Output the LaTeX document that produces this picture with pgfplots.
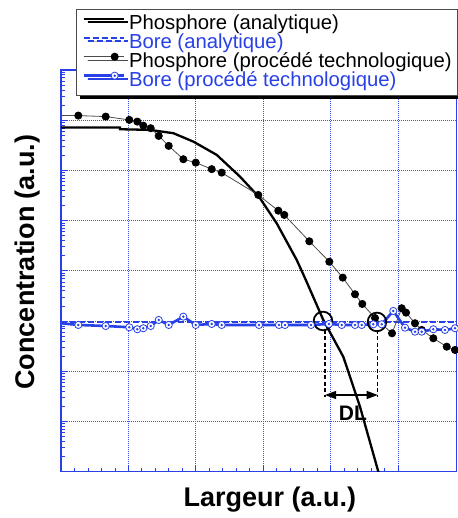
\documentclass[border=0pt]{standalone}
\usepackage{fontspec}
\setmainfont{Liberation Sans}
\usepackage{pgfplots}
\pgfplotsset{compat=1.18}
\usetikzlibrary{shadows,arrows.meta}

\definecolor{myblue}{RGB}{40,64,232}
\definecolor{gridblue}{RGB}{55,80,235}

% open circle with a dot in the middle
\pgfdeclareplotmark{dotcircle}{%
  \pgfpathcircle{\pgfpointorigin}{\pgfplotmarksize}%
  \pgfusepathqfillstroke
  \pgfscope
  \pgfsetfillcolor{myblue}%
  \pgfpathcircle{\pgfpointorigin}{0.38\pgfplotmarksize}%
  \pgfusepathqfill
  \endpgfscope
}

\begin{document}
\begin{tikzpicture}
\path[use as bounding box] (0,0) rectangle (457pt,518pt);
\begin{axis}[
    at={(61pt,46.3pt)}, anchor=south west,
    scale only axis, width=395.7pt, height=401.7pt,
    xmin=0, xmax=5.871,
    ymode=log, ymin=1, ymax=1e8,
    xtick={0,1,2,3,4,5}, minor x tick num=4,
    ytick={1,10,100,1000,10000,100000,1000000,10000000,100000000},
    minor ytick={2,3,4,5,6,7,8,9,20,30,40,50,60,70,80,90,
      200,300,400,500,600,700,800,900,2000,3000,4000,5000,6000,7000,8000,9000,
      20000,30000,40000,50000,60000,70000,80000,90000,
      200000,300000,400000,500000,600000,700000,800000,900000,
      2000000,3000000,4000000,5000000,6000000,7000000,8000000,9000000,
      20000000,30000000,40000000,50000000,60000000,70000000,80000000,90000000},
    xticklabels={}, yticklabels={},
    tick pos=left, tick align=inside,
    major tick length=6pt, minor tick length=4pt,
    tick style={myblue, line width=0.8pt},
    axis line style={myblue, line width=1.2pt},
    grid=major,
    major grid style={gridblue, line width=0.9pt, dash pattern=on 1pt off 1pt},
    xlabel={Largeur (a.u.)},
    ylabel={Concentration (a.u.)},
    xlabel style={at={(axis description cs:0.528,-0.0705)}, anchor=center,
      font=\fontsize{27}{27}\selectfont\bfseries},
    ylabel style={at={(axis description cs:-0.0847,0.522)}, anchor=center,
      font=\fontsize{27}{27}\selectfont\bfseries},
    legend cell align=left,
    legend image code/.code={%
      \draw[#1, mark=none] (0pt,5.5pt) -- (40pt,5.5pt);
      \path[#1] plot coordinates {(0pt,5.5pt) (31pt,5.5pt)};},
    legend style={
      at={(axis description cs:0.0379,1.1511)}, anchor=north west,
      draw=black!70, line width=0.8pt, fill=white,
      font=\fontsize{20.3}{20}\selectfont,
      inner xsep=6pt, inner ysep=5pt,
      row sep=0pt,
      nodes={inner sep=0pt, text height=14.5pt, text depth=4.5pt},
      drop shadow={shadow xshift=4pt, shadow yshift=-3.5pt, fill=black, opacity=1},
      /tikz/every odd column/.append style={column sep=4pt},
    },
]

% Phosphore (analytique)
\addplot[black, line width=2.3pt, mark=none] coordinates {
  (0,7.13e6) (0.875,7.13e6) (0.875,6.61e6) (1.32,6.41e6) (1.667,5.51e6)
  (1.963,3.75e6) (2.31,2.04e6) (2.656,7.52e5) (2.953,2.79e5) (3.2,8.87e4)
  (3.497,1.65e4) (3.632,6.59e3) (3.892,1.05e3) (4.188,195) (4.436,19.7)
  (4.708,1.0) (4.807,0.275)
};
\addlegendentry{Phosphore (analytique)}

% Bore (analytique)
\addplot[myblue, line width=2pt, dash pattern=on 6pt off 3pt, mark=none] coordinates {
  (0,973) (5.871,973)
};
\addlegendentry{\textcolor{myblue}{Bore (analytique)}}

% Phosphore (procede technologique)
\addplot[black!70, line width=0.8pt, mark=*, mark size=3.6pt,
  mark options={fill=black, draw=black, solid}, mark indices={2,...,40}] coordinates {
  (0,1.236e7) (0.257,1.236e7) (0.663,1.18e7) (1.013,1.014e7) (1.132,9.38e6)
  (1.221,7.80e6) (1.331,6.93e6) (1.450,4.87e6) (1.598,3.08e6) (1.815,1.67e6)
  (1.999,1.43e6) (2.236,1.06e6) (2.384,9.04e5) (2.927,3.25e5) (3.224,1.58e5)
  (3.313,1.30e5) (3.684,3.88e4) (3.981,1.52e4) (4.180,7.33e3) (4.362,3.42e3)
  (4.470,2.19e3) (4.659,1.15e3) (4.911,571) (5.055,1.80e3) (5.119,1.47e3)
  (5.252,904) (5.352,665) (5.524,454) (5.723,309) (5.846,266)
};
\addlegendentry{Phosphore (procédé technologique)}

% Bore (procede technologique)
\addplot[myblue, line width=2.6pt, mark=dotcircle, mark size=3.6pt,
  mark options={fill=white, draw=myblue, line width=0.8pt, solid}, mark indices={2,...,40}] coordinates {
  (0,904) (0.257,836) (0.663,798) (1.013,752) (1.132,687) (1.221,719)
  (1.331,798) (1.450,1052) (1.598,836) (1.815,1224) (1.999,836) (2.236,875)
  (2.384,836) (2.938,836) (3.234,836) (3.323,836) (3.709,836) (3.976,875)
  (4.165,836) (4.362,836) (4.461,836) (4.634,863) (4.758,863) (4.930,1589)
  (5.104,739) (5.252,615) (5.352,615) (5.524,687) (5.697,665) (5.846,719)
};
\addlegendentry{\textcolor{myblue}{Bore (procédé technologique)}}

% DL annotation
\draw[black, line width=1.8pt] (axis cs:3.887,1004) circle[radius=9.3pt];
\draw[black, line width=1.8pt] (axis cs:4.688,960) circle[radius=9.3pt];
\draw[black, line width=1.4pt, dash pattern=on 4pt off 2.5pt]
  (axis cs:3.917,665) -- (axis cs:3.917,30.8);
\draw[black, line width=1.4pt, dash pattern=on 4pt off 2.5pt]
  (axis cs:4.699,665) -- (axis cs:4.699,30.8);
\draw[black, line width=1.1pt, {Triangle[length=11pt,width=8pt]}-{Triangle[length=11pt,width=8pt]}]
  (axis cs:3.917,33.7) -- (axis cs:4.699,33.7);
\node[font=\fontsize{21}{21}\selectfont\bfseries] at (axis cs:4.332,14.8) {DL};

\end{axis}
\end{tikzpicture}
\end{document}
